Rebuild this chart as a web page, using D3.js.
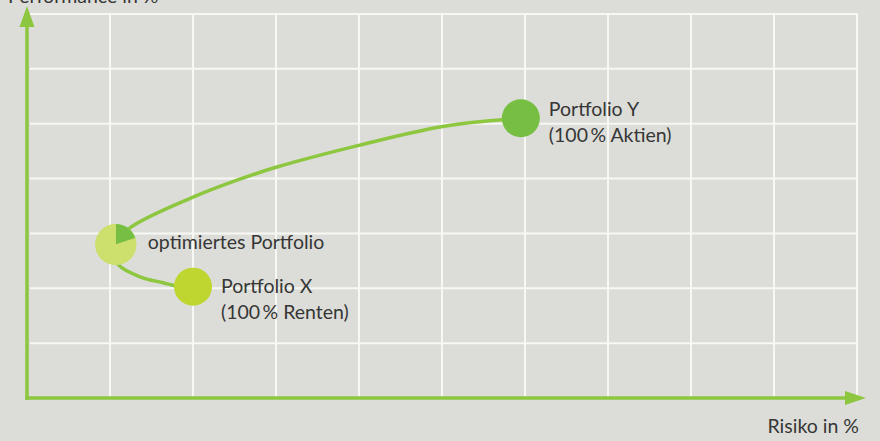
<!DOCTYPE html>
<html>
<head>
<meta charset="utf-8">
<script src="https://cdn.jsdelivr.net/npm/d3@7"></script>
<style>
  html, body { margin: 0; padding: 0; background: #dcddd8; }
  svg { display: block; }
  text { font-family: Lato, "Open Sans", sans-serif; font-size: 19.5px; fill: #363636; }
  .grid line { stroke: #f7f7f3; stroke-width: 2; }
  .axis-line { stroke: #8dc63f; stroke-width: 3.5; }
  .arrow { fill: #8dc63f; }
  .frontier { fill: none; stroke: #8dc63f; stroke-width: 3.5; }
</style>
</head>
<body>
<svg id="chart" width="880" height="441"></svg>
<script>
// grid ticks (risk 0..10, performance 0..7)
var riskTicks = [1, 2, 3, 4, 5, 6, 7, 8, 9, 10];
var perfTicks = [1, 2, 3, 4, 5, 6, 7];

// efficient frontier (risk, performance)
var frontierRisk = [2.0, 1.81, 1.64, 1.36, 1.10, 1.02, 1.24, 2.0, 2.53, 3.01, 4.01, 5.01, 5.95];
var frontierPerf = [2.02, 2.04, 2.10, 2.21, 2.43, 2.75, 3.10, 3.66, 3.97, 4.21, 4.61, 4.95, 5.10];

// portfolios
var pfNames = ["optimiertes Portfolio", "Portfolio X", "Portfolio Y"];
var pfSub = ["", "(100\u2009% Renten)", "(100\u2009% Aktien)"];
var pfRisk = [1.07, 2.0, 5.95];
var pfPerf = [2.8, 2.03, 5.1];
var pfColors = ["#cddf6c", "#bfd630", "#76bf43"];
// share of shares (Aktien) in the optimised portfolio
var optShare = [20, 80];
var optColors = ["#76bf43", "#cddf6c"];

var xLabel = "Risiko in %";
var yLabel = "Performance in %";

var svg = d3.select("#chart");

var x = d3.scaleLinear().domain([0, 10]).range([27, 857]);
var y = d3.scaleLinear().domain([0, 7]).range([398, 14]);

// grid
var grid = svg.append("g").attr("class", "grid");
grid.selectAll("line.v")
  .data(riskTicks)
  .enter().append("line")
  .attr("class", "v")
  .attr("x1", function (d) { return x(d); })
  .attr("x2", function (d) { return x(d); })
  .attr("y1", y(7) - 1)
  .attr("y2", y(0));
grid.selectAll("line.h")
  .data(perfTicks)
  .enter().append("line")
  .attr("class", "h")
  .attr("x1", x(0) + 3)
  .attr("x2", x(10) + 1)
  .attr("y1", function (d) { return y(d); })
  .attr("y2", function (d) { return y(d); });

// axes with arrow heads
svg.append("line").attr("class", "axis-line")
  .attr("x1", x(0)).attr("y1", y(0) + 1.75)
  .attr("x2", x(0)).attr("y2", 24);
svg.append("path").attr("class", "arrow")
  .attr("d", "M" + (x(0) - 7.5) + ",27 L" + x(0) + ",6 L" + (x(0) + 7.5) + ",27 Z");
svg.append("line").attr("class", "axis-line")
  .attr("x1", x(0) - 1.75).attr("y1", y(0))
  .attr("x2", 848).attr("y2", y(0));
svg.append("path").attr("class", "arrow")
  .attr("d", "M845," + (y(0) - 7) + " L866," + y(0) + " L845," + (y(0) + 7) + " Z");

svg.append("text")
  .attr("x", 8).attr("y", 3)
  .text(yLabel);
svg.append("text")
  .attr("x", 859).attr("y", 433)
  .attr("text-anchor", "end")
  .text(xLabel);

// frontier curve
var line = d3.line()
  .x(function (d) { return x(d[0]); })
  .y(function (d) { return y(d[1]); })
  .curve(d3.curveCatmullRom);
svg.append("path")
  .datum(d3.zip(frontierRisk, frontierPerf))
  .attr("class", "frontier")
  .attr("d", line);

// portfolio dots
var radii = [20.5, 19, 19];
var dots = svg.selectAll("g.pf")
  .data(pfNames)
  .enter().append("g")
  .attr("class", "pf")
  .attr("transform", function (d, i) { return "translate(" + x(pfRisk[i]) + "," + y(pfPerf[i]) + ")"; });

dots.append("circle")
  .attr("r", function (d, i) { return radii[i]; })
  .attr("fill", function (d, i) { return pfColors[i]; });

// pie for the optimised portfolio
var arc = d3.arc().innerRadius(0).outerRadius(radii[0]);
var pie = d3.pie().sort(null);
d3.select(dots.nodes()[0]).selectAll("path")
  .data(pie(optShare))
  .enter().append("path")
  .attr("d", arc)
  .attr("fill", function (d, i) { return optColors[i]; });

// labels
var labelDx = [32, 28, 28];
var labelDy = [5, 6, -2];
dots.append("text")
  .attr("x", function (d, i) { return labelDx[i]; })
  .attr("y", function (d, i) { return labelDy[i]; })
  .text(function (d) { return d; });
dots.append("text")
  .attr("x", function (d, i) { return labelDx[i]; })
  .attr("y", function (d, i) { return labelDy[i] + 26; })
  .text(function (d, i) { return pfSub[i]; });
</script>
</body>
</html>
